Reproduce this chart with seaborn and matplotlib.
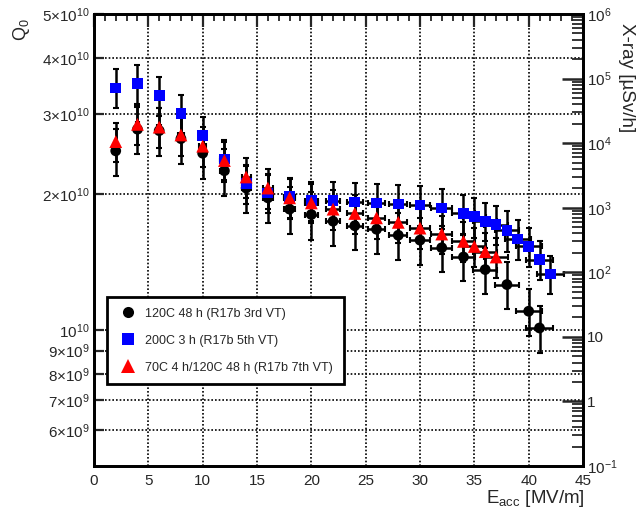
import numpy as np
import pandas as pd
import matplotlib
matplotlib.use("Agg")
import matplotlib.pyplot as plt
import seaborn as sns
from matplotlib.lines import Line2D
from matplotlib.ticker import FixedLocator, FixedFormatter, MultipleLocator, NullFormatter, LogLocator

# ---------------- data (Q0 in units of 1e10) ----------------
e_black = [2, 4, 6, 8, 10, 12, 14, 16, 18, 20, 22, 24, 26, 28, 30, 32, 34, 36, 38, 40, 41]
q_black = [2.49, 2.78, 2.76, 2.65, 2.46, 2.25, 2.06, 1.96, 1.85, 1.80, 1.74, 1.70, 1.67,
           1.62, 1.58, 1.52, 1.45, 1.36, 1.26, 1.10, 1.01]
err_black = [0.30, 0.33, 0.33, 0.32, 0.30, 0.27, 0.25, 0.24, 0.22, 0.22, 0.21, 0.20, 0.20,
             0.19, 0.19, 0.18, 0.17, 0.16, 0.15, 0.13, 0.12]

e_blue = [2, 4, 6, 8, 10, 12, 14, 16, 18, 20, 22, 24, 26, 28, 30, 32, 34, 35, 36, 37, 38, 39, 40, 41, 42]
q_blue = [3.43, 3.51, 3.30, 3.01, 2.69, 2.39, 2.11, 2.01, 1.97, 1.93, 1.93, 1.92, 1.91,
          1.90, 1.89, 1.86, 1.81, 1.78, 1.74, 1.71, 1.66, 1.59, 1.53, 1.43, 1.33]
err_blue = [0.34, 0.35, 0.33, 0.30, 0.27, 0.24, 0.21, 0.20, 0.20, 0.19, 0.19, 0.19, 0.19,
            0.19, 0.19, 0.19, 0.18, 0.18, 0.17, 0.17, 0.17, 0.16, 0.15, 0.14, 0.13]

e_red = [2, 4, 6, 8, 10, 12, 14, 16, 18, 20, 22, 24, 26, 28, 30, 32, 34, 35, 36, 37]
q_red = [2.61, 2.85, 2.81, 2.70, 2.55, 2.37, 2.18, 2.06, 1.96, 1.91, 1.85, 1.81, 1.77,
         1.73, 1.68, 1.63, 1.57, 1.53, 1.49, 1.45]
err_red = [0.26, 0.29, 0.28, 0.27, 0.26, 0.24, 0.22, 0.21, 0.20, 0.19, 0.19, 0.18, 0.18,
           0.17, 0.17, 0.16, 0.16, 0.15, 0.15, 0.15]

E_REL_ERR = 0.03  # relative horizontal uncertainty on Eacc

labels = ["120C 48 h (R17b 3rd VT)", "200C 3 h (R17b 5th VT)", "70C 4 h/120C 48 h (R17b 7th VT)"]

q_ticks = [6e9, 7e9, 8e9, 9e9, 1e10, 2e10, 3e10, 4e10, 5e10]
q_ticklabels = [r"$6{\times}10^{9}$", r"$7{\times}10^{9}$", r"$8{\times}10^{9}$",
                r"$9{\times}10^{9}$", r"$10^{10}$", r"$2{\times}10^{10}$", r"$3{\times}10^{10}$",
                r"$4{\times}10^{10}$", r"$5{\times}10^{10}$"]
x_ticks = [0, 5, 10, 15, 20, 25, 30, 35, 40, 45]
xray_ticks = [1e-1, 1, 10, 1e2, 1e3, 1e4, 1e5, 1e6]
xray_ticklabels = [r"$10^{-1}$", "1", "10", r"$10^{2}$", r"$10^{3}$", r"$10^{4}$", r"$10^{5}$", r"$10^{6}$"]

# ---------------- style ----------------
sns.set_theme(style="white")
plt.rcParams["font.family"] = ["Liberation Sans", "DejaVu Sans"]
plt.rcParams["mathtext.fontset"] = "custom"
plt.rcParams["mathtext.rm"] = "Liberation Sans"
plt.rcParams["mathtext.it"] = "Liberation Sans:italic"
plt.rcParams["mathtext.bf"] = "Liberation Sans:bold"

fig = plt.figure(figsize=(6.41, 5.17), dpi=100)
ax = fig.add_axes([94 / 641, 51 / 517, 489 / 641, 452 / 517])

palette = {labels[0]: "black", labels[1]: "#0000ff", labels[2]: "#ff0000"}
markers = {labels[0]: "o", labels[1]: "s", labels[2]: "^"}
sizes_pt = {labels[0]: 60, labels[1]: 60, labels[2]: 85}

frames = []
for (e, q, er), lab in zip([(e_black, q_black, err_black), (e_blue, q_blue, err_blue),
                            (e_red, q_red, err_red)], labels):
    frames.append(pd.DataFrame({"E": e, "Q": np.array(q) * 1e10,
                                "err": np.array(er) * 1e10, "series": lab}))
df = pd.concat(frames, ignore_index=True)

# error bars first (black)
for lab in labels:
    d = df[df.series == lab]
    ax.errorbar(d.E, d.Q, yerr=d.err, xerr=d.E * E_REL_ERR, fmt="none",
                ecolor="black", elinewidth=1.8, capsize=2.2, capthick=1.5, zorder=2)

for lab in labels:
    d = df[df.series == lab]
    sns.scatterplot(data=d, x="E", y="Q", ax=ax, color=palette[lab], marker=markers[lab],
                    s=sizes_pt[lab], edgecolor="none", linewidth=0, zorder=3, legend=False)

ax.set_yscale("log")
ax.set_xlim(0, 45)
ax.set_ylim(5e9, 5e10)
ax.yaxis.set_major_locator(FixedLocator(q_ticks))
ax.yaxis.set_major_formatter(FixedFormatter(q_ticklabels))
ax.yaxis.set_minor_locator(FixedLocator([]))
ax.xaxis.set_major_locator(FixedLocator(x_ticks))
ax.xaxis.set_minor_locator(MultipleLocator(1))
ax.set_xlabel("")
ax.set_ylabel("")

ax.grid(True, which="major", color="black", linestyle=(0, (1, 1.2)), linewidth=1.2)
ax.tick_params(axis="x", which="major", direction="in", length=9, width=1.6, top=True,
               labelsize=11, pad=6)
ax.tick_params(axis="x", which="minor", direction="in", length=5, width=1.3, top=True)
ax.tick_params(axis="y", which="major", direction="in", length=7, width=1.6, labelsize=11,
               right=False, pad=3)
for s in ax.spines.values():
    s.set_linewidth(2)
    s.set_color("black")

# secondary log axis (X-ray)
ax2 = ax.twinx()
ax2.set_yscale("log")
ax2.set_ylim(1e-1, 1e6)
ax2.yaxis.set_major_locator(FixedLocator(xray_ticks))
ax2.yaxis.set_major_formatter(FixedFormatter(xray_ticklabels))
ax2.yaxis.set_minor_locator(LogLocator(base=10, subs=np.arange(2, 10)))
ax2.yaxis.set_minor_formatter(NullFormatter())
ax2.tick_params(axis="y", which="major", direction="in", length=15, width=1.8, labelsize=11, pad=3)
ax2.tick_params(axis="y", which="minor", direction="in", length=8, width=1.3)
ax2.grid(False)
for s in ax2.spines.values():
    s.set_linewidth(2)
    s.set_color("black")

# axis titles
fig.text(22 / 641, 1 - 30 / 517, r"Q$_0$", rotation=90, fontsize=13, ha="center", va="center")
fig.text(585 / 641, 1 - 503 / 517, r"E$_{\rm acc}$ [MV/m]", fontsize=13.5, ha="right", va="baseline")
fig.text(627 / 641, 1 - 78 / 517, "X-ray [µSv/h]", rotation=270, fontsize=13.5, ha="center", va="center")

# legend
handles = [Line2D([], [], linestyle="none", marker=markers[l], color=palette[l],
                  markersize=8 if markers[l] != "^" else 10, markeredgewidth=0) for l in labels]
leg = ax.legend(handles, labels, loc="upper left", bbox_to_anchor=(0.027, 0.374),
                frameon=True, fancybox=False, framealpha=1, edgecolor="black",
                fontsize=9, labelspacing=1.2, borderpad=0.85, handletextpad=0.6,
                handlelength=1.6, borderaxespad=0)
leg.get_frame().set_linewidth(2)
leg.set_zorder(10)

fig.savefig("out.png", dpi=100)
